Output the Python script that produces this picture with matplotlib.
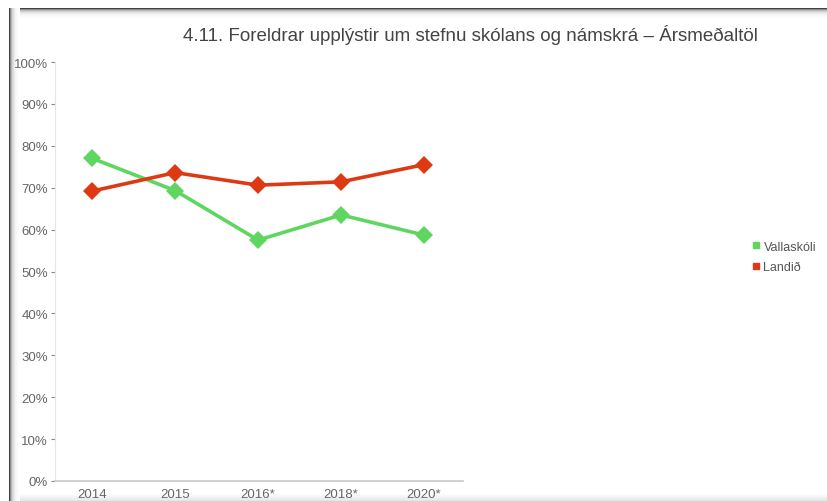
import numpy as np
import matplotlib
matplotlib.use('Agg')
import matplotlib.pyplot as plt
from matplotlib.lines import Line2D

plt.rcParams['font.family'] = ['Liberation Sans Narrow', 'Liberation Sans', 'DejaVu Sans']

years = ['2014', '2015', '2016*', '2018*', '2020*']
vallaskoli = [77.0, 69.3, 57.5, 63.5, 58.7]
landid = [69.2, 73.6, 70.6, 71.4, 75.5]
series_names = ['Vallaskóli', 'Landið']
colors = ['#5fd65f', '#dd3a14']
title = '4.11. Foreldrar upplýstir um stefnu skólans og námskrá – Ársmeðaltöl'

fig = plt.figure(figsize=(8.28, 5.02), dpi=100)
fig.patch.set_facecolor('white')

# screenshot-like frame shadow (top and left edges)
bg = fig.add_axes([0, 0, 1, 1], zorder=-5)
shade = np.array([0.25, 0.55, 0.72, 0.82, 0.88, 0.92, 0.95, 0.97, 0.98, 0.99, 1.0])
bg.imshow(shade[:, None] * np.ones((1, 2)), cmap='gray', vmin=0, vmax=1,
          extent=[10, 828, 20, 9], aspect='auto', interpolation='nearest')
bg.imshow(np.ones((2, 1)) * shade[None, :], cmap='gray', vmin=0, vmax=1,
          extent=[9, 20, 502, 9], aspect='auto', interpolation='nearest')
bottom = np.linspace(1.0, 0.9, 8)[:, None] * np.ones((1, 2))
bg.imshow(bottom, cmap='gray', vmin=0, vmax=1, extent=[20, 828, 502, 494],
          aspect='auto', interpolation='nearest')
bg.set_xlim(0, 828)
bg.set_ylim(502, 0)
bg.axis('off')

ax = fig.add_axes([55 / 828, 1 - 482 / 502, (463 - 55) / 828, (482 - 63) / 502])
ax.set_facecolor('none')
x = np.arange(len(years))
for vals, col in zip([vallaskoli, landid], colors):
    ax.plot(x, vals, color=col, lw=2.6, marker='D', markersize=9,
            markeredgewidth=0, solid_joinstyle='round')

ax.set_xlim(-0.45, 4.47)
ax.set_ylim(0, 100)
ax.set_yticks(range(0, 101, 10))
ax.set_yticklabels([f'{v}%' for v in range(0, 101, 10)])
ax.set_xticks(x)
ax.set_xticklabels(years)
ax.tick_params(axis='y', length=3, width=0.8, color='#888888', labelcolor='#666666',
               labelsize=9.5, pad=2)
ax.tick_params(axis='x', length=0, labelcolor='#666666', labelsize=9.5, pad=5)
for s in ['top', 'right']:
    ax.spines[s].set_visible(False)
ax.spines['left'].set_color('#e6e6e6')
ax.spines['bottom'].set_color('#c8c8c8')
ax.spines['bottom'].set_linewidth(1.2)

fig.text(470 / 828, 1 - 35 / 502, title, ha='center', va='center',
         fontsize=13.5, color='#444444')

handles = [Line2D([], [], ls='none', marker='s', markersize=5, color=c) for c in colors]
fig.legend(handles, series_names, loc='center left', bbox_to_anchor=(746 / 828, 1 - 258 / 502),
           frameon=False, fontsize=9, labelcolor='#555555', handlelength=0.6,
           handletextpad=0.3, labelspacing=0.7, borderpad=0)

fig.savefig('out.png', dpi=100)
